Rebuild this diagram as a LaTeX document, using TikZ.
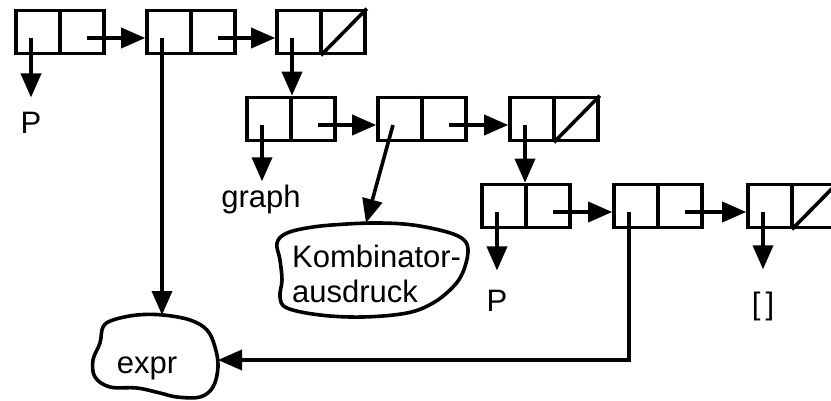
\documentclass[tikz,border=0pt]{standalone}
\usepackage{fontspec}
\setmainfont{Liberation Sans}
\usetikzlibrary{arrows.meta,calc}
\begin{document}
\begin{tikzpicture}[x=1pt,y=-1pt,
  lw/.style={line width=3.6pt},
  cell/.style={draw, lw, rectangle, minimum width=88pt, minimum height=43pt, inner sep=0pt},
  ptr/.style={lw, -{Triangle[length=24pt,width=20pt]}},
  lbl/.style={font=\fontsize{31}{35}\selectfont, inner sep=0pt},
  blob/.style={lw, line join=round}]
\clip (0,0) rectangle (831,401);
\fill[white] (0,0) rectangle (831,401);
% cells
\foreach \n/\x/\y in {A1/60/32, A2/191/32, A3/321/32, B1/291/119, B2/422/119, B3/554/119, C1/526/206, C2/658/206, C3/792/206} {
  \node[cell] (\n) at (\x,\y) {};
  \draw[lw] (\n.north) -- (\n.south);
  \coordinate (\n-car) at ($(\n.center)+(-29,6)$);
  \coordinate (\n-cdr) at ($(\n.center)+(27,6)$);
}
\foreach \n in {A3,B3,C3} \draw[lw] (\n.south) -- (\n.north east);
% cdr links
\foreach \a/\b in {A1/A2, A2/A3, B1/B2, B2/B3, C1/C2, C2/C3}
  \draw[ptr] (\a-cdr) -- (\a-cdr -| \b.west);
% car links to sublists
\draw[ptr] (A3-car) -- (A3-car |- B1.north);
\draw[ptr] (B3-car) -- (B3-car |- C1.north);
% labels
\node[lbl, anchor=base] (P1) at (31,134) {P};
\draw[ptr, shorten >=15pt] (A1-car) -- (A1-car |- P1.north);
\node[lbl, anchor=base] (graph) at (261,208) {graph};
\draw[ptr, shorten >=4pt] (B1-car) -- (B1-car |- graph.north);
\node[lbl, anchor=base] (P2) at (497,311) {P};
\draw[ptr, shorten >=19pt] (C1-car) -- (C1-car |- P2.north);
\node[lbl, anchor=base] (nil) at (763,314) {[\,]};
\draw[ptr, shorten >=22pt] (C3-car) -- (C3-car |- nil.north);
% Kombinatorausdruck blob
\draw[blob] plot[smooth cycle, tension=0.6] coordinates {
  (468,252) (463,272) (453,287) (433,303) (407,313) (363,317) (320,315) (287,308)
  (280,297) (282,280) (280,260) (277,243) (287,233) (313,227) (347,224) (380,223)
  (413,225) (447,232) (464,240)};
\coordinate (kombTop) at (366,223);
\node[lbl, anchor=base west] (komb1) at (292,267) {Kombinator-};
\node[lbl, anchor=base west] (komb2) at (292,302) {ausdruck};
\draw[ptr] (B2-car) -- (kombTop);
% expr blob
\draw[blob] plot[smooth cycle, tension=0.6] coordinates {
  (113,320) (103,327) (100,343) (93,360) (95,377) (110,387) (137,388) (160,393)
  (177,397) (200,397) (213,387) (218,367) (215,347) (207,330) (190,320) (163,315)
  (137,315)};
\coordinate (exprTop) at (A2-car |- 0,315);
\coordinate (exprR) at (218,360);
\node[lbl, anchor=base] (expr) at (147,373) {expr};
\draw[ptr] (A2-car) -- (exprTop);
\draw[ptr] (C2-car) |- (exprR);
\end{tikzpicture}
\end{document}
